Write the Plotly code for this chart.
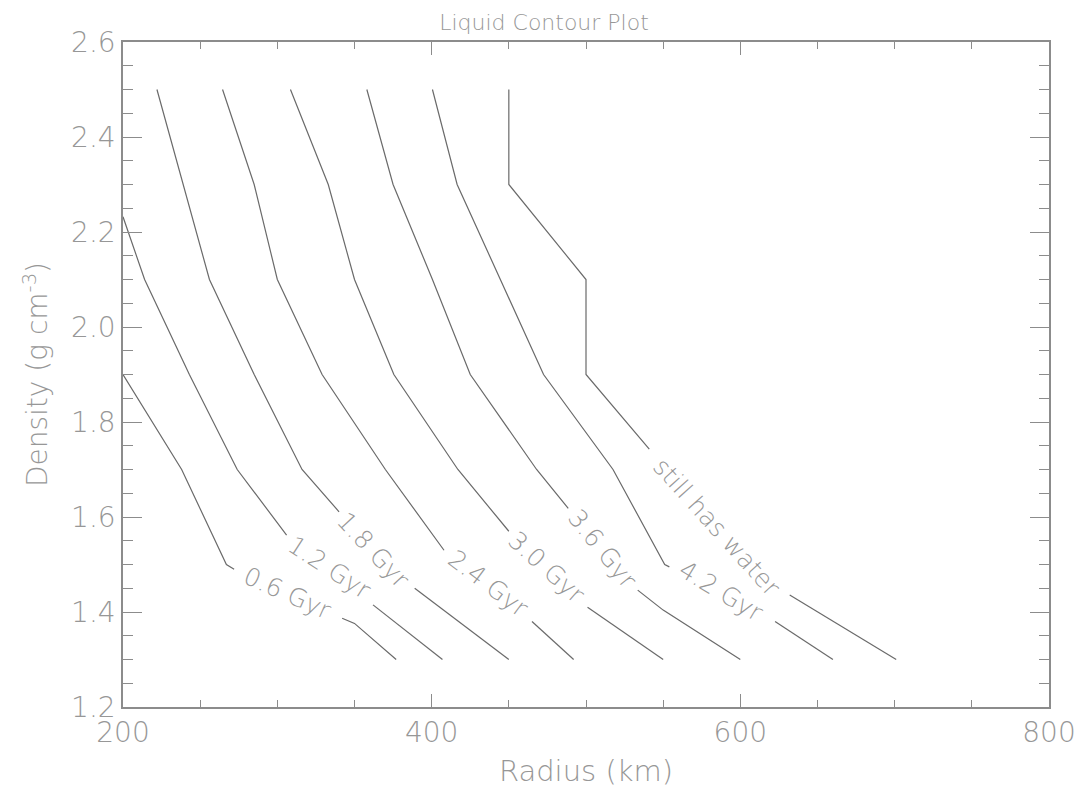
import plotly.graph_objects as go

# ---- data (radius in km, density in g cm^-3) ----
# None marks the gap where the contour label sits
radius_06 = [200, 238, 267, 272, None, 342, 350, 377]
density_06 = [1.9, 1.7, 1.5, 1.49, None, 1.387, 1.376, 1.3]

radius_12 = [200, 214, 243, 274, 306, None, 362, 407]
density_12 = [2.232, 2.1, 1.9, 1.7, 1.562, None, 1.415, 1.3]

radius_18 = [222, 239, 256, 285, 316, 340, None, 389, 450]
density_18 = [2.5, 2.3, 2.1, 1.9, 1.7, 1.611, None, 1.45, 1.3]

radius_24 = [264.5, 285, 300, 329, 370, 408, None, 465, 492]
density_24 = [2.5, 2.3, 2.1, 1.9, 1.7, 1.53, None, 1.38, 1.3]

radius_30 = [308.5, 333, 350, 375.5, 417, 450, None, 501, 550]
density_30 = [2.5, 2.3, 2.1, 1.9, 1.7, 1.57, None, 1.41, 1.3]

radius_36 = [358, 375, 400.5, 425, 468, 488.5, None, 533.5, 550, 600]
density_36 = [2.5, 2.3, 2.1, 1.9, 1.7, 1.618, None, 1.446, 1.404, 1.3]

radius_42 = [400.5, 416.5, 444.5, 472.5, 517.5, 551, 554, None, 622.5, 660]
density_42 = [2.5, 2.3, 2.1, 1.9, 1.7, 1.5, 1.495, None, 1.38, 1.3]

radius_water = [450, 450, 500, 500, 541, None, 632, 701]
density_water = [2.5, 2.3, 2.1, 1.9, 1.743, None, 1.436, 1.3]

level_labels = ["0.6 Gyr", "1.2 Gyr", "1.8 Gyr", "2.4 Gyr", "3.0 Gyr",
                "3.6 Gyr", "4.2 Gyr", "still has water"]

x_ticks = [200, 400, 600, 800]
y_ticks = [1.2, 1.4, 1.6, 1.8, 2.0, 2.2, 2.4, 2.6]

# ---- label placement (position along each contour and text angle) ----
label_r = [306.9, 333.5, 362.5, 436.6, 474.5, 511, 588, 585]
label_d = [1.438, 1.493, 1.53, 1.46, 1.493, 1.532, 1.444, 1.578]
label_angle = [24, 33, 47, 37, 42, 51, 31, 48]

series_r = [radius_06, radius_12, radius_18, radius_24, radius_30,
            radius_36, radius_42, radius_water]
series_d = [density_06, density_12, density_18, density_24, density_30,
            density_36, density_42, density_water]

LINE = "#6a6a6a"
AXIS = "#8c8c8c"
TEXT = "#979797"
FONT = "DejaVu Sans"
WEIGHT = 300

fig = go.Figure()
for name, xs, ys in zip(level_labels, series_r, series_d):
    fig.add_trace(go.Scatter(x=xs, y=ys, mode="lines", name=name,
                             line=dict(color=LINE, width=1.2),
                             connectgaps=False, showlegend=False,
                             hoverinfo="skip"))

for text, xr, yd, ang in zip(level_labels, label_r, label_d, label_angle):
    fig.add_annotation(x=xr, y=yd, xref="x", yref="y", text=text,
                       textangle=ang, showarrow=False,
                       xanchor="center", yanchor="middle",
                       font=dict(family=FONT, size=25, color=TEXT,
                                 weight=WEIGHT))

axis_common = dict(
    showline=True, linecolor=AXIS, linewidth=1.5, mirror="ticks",
    ticks="inside", tickcolor=AXIS, tickwidth=1.2,
    showgrid=False, zeroline=False,
    tickfont=dict(family=FONT, size=28, color=TEXT, weight=WEIGHT),
)

fig.update_xaxes(range=[200, 800], tickvals=x_ticks, ticklen=13,
                 minor=dict(dtick=50, tick0=200, ticklen=7, ticks="inside",
                            tickcolor=AXIS, tickwidth=1.2),
                 title=dict(text="Radius (km)", standoff=12,
                            font=dict(family=FONT, size=29, color=TEXT,
                                      weight=WEIGHT)),
                 **axis_common)
fig.update_yaxes(range=[1.2, 2.6], tickvals=y_ticks, tickformat=".1f",
                 ticklen=19,
                 minor=dict(dtick=0.05, tick0=1.2, ticklen=10, ticks="inside",
                            tickcolor=AXIS, tickwidth=1.2),
                 title=dict(text="Density (g cm<sup>-3</sup>)", standoff=15,
                            font=dict(family=FONT, size=28, color=TEXT,
                                      weight=WEIGHT)),
                 **axis_common)

fig.update_layout(
    width=1088, height=795,
    margin=dict(l=123, r=32, t=42, b=88),
    paper_bgcolor="white", plot_bgcolor="white",
    title=dict(text="Liquid Contour Plot", x=0.5, xref="container",
               xanchor="center", y=1 - 22 / 795, yref="container",
               yanchor="middle",
               font=dict(family=FONT, size=22, color=TEXT, weight=WEIGHT)),
)

fig.write_html("out.html")
